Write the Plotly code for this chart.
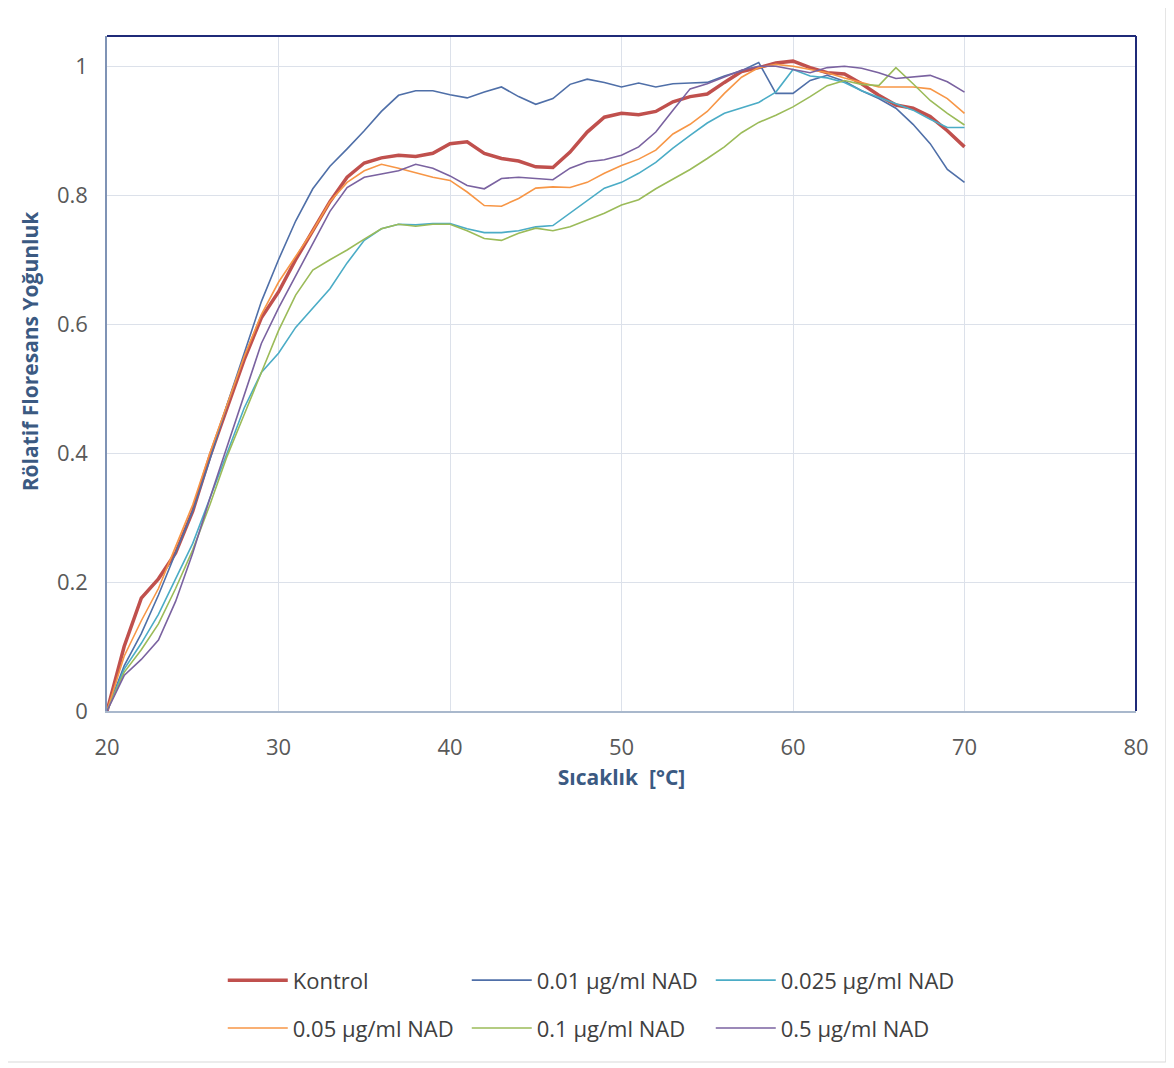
import plotly.graph_objects as go

temps = list(range(20, 71))

kontrol = [0, 0.10, 0.175, 0.205, 0.245, 0.31, 0.395, 0.47, 0.545, 0.61,
           0.65, 0.70, 0.745, 0.79, 0.828, 0.85, 0.858, 0.862, 0.86, 0.865,
           0.88, 0.883, 0.865, 0.857, 0.853, 0.844, 0.843, 0.867, 0.898, 0.921,
           0.927, 0.925, 0.93, 0.945, 0.953, 0.957, 0.975, 0.992, 0.998, 1.005,
           1.008, 0.998, 0.99, 0.988, 0.973, 0.955, 0.94, 0.935, 0.922, 0.90,
           0.875]
nad_001 = [0, 0.07, 0.12, 0.18, 0.245, 0.31, 0.39, 0.475, 0.555, 0.635,
           0.70, 0.76, 0.81, 0.845, 0.872, 0.90, 0.93, 0.955, 0.962, 0.962,
           0.956, 0.951, 0.96, 0.968, 0.953, 0.941, 0.95, 0.972, 0.98, 0.975,
           0.968, 0.974, 0.968, 0.973, 0.974, 0.975, 0.985, 0.993, 1.006, 0.958,
           0.958, 0.978, 0.986, 0.977, 0.962, 0.95, 0.935, 0.91, 0.88, 0.84,
           0.82]
nad_0025 = [0, 0.065, 0.105, 0.15, 0.205, 0.26, 0.33, 0.40, 0.47, 0.525,
            0.555, 0.595, 0.625, 0.655, 0.695, 0.73, 0.748, 0.755, 0.754, 0.756,
            0.756, 0.748, 0.742, 0.742, 0.745, 0.751, 0.753, 0.772, 0.792, 0.811,
            0.82, 0.834, 0.851, 0.873, 0.893, 0.912, 0.927, 0.935, 0.944, 0.96,
            0.995, 0.985, 0.982, 0.975, 0.962, 0.952, 0.942, 0.932, 0.918, 0.905,
            0.905]
nad_005 = [0, 0.085, 0.14, 0.19, 0.255, 0.32, 0.40, 0.475, 0.55, 0.615,
           0.665, 0.705, 0.745, 0.79, 0.82, 0.838, 0.848, 0.842, 0.835, 0.828,
           0.823, 0.805, 0.784, 0.783, 0.795, 0.811, 0.813, 0.812, 0.82, 0.834,
           0.846, 0.856, 0.87, 0.895, 0.91, 0.93, 0.958, 0.983, 0.998, 1.003,
           1.0, 0.995, 0.99, 0.982, 0.975, 0.968, 0.968, 0.968, 0.965, 0.95,
           0.927]
nad_01 = [0, 0.06, 0.095, 0.135, 0.19, 0.25, 0.32, 0.395, 0.46, 0.525,
          0.59, 0.645, 0.684, 0.70, 0.715, 0.732, 0.748, 0.755, 0.752, 0.755,
          0.755, 0.745, 0.733, 0.73, 0.741, 0.749, 0.745, 0.751, 0.761, 0.772,
          0.785, 0.793, 0.81, 0.825, 0.84, 0.857, 0.875, 0.897, 0.913, 0.924,
          0.937, 0.953, 0.97, 0.978, 0.972, 0.97, 0.998, 0.973, 0.947, 0.927,
          0.909]
nad_05 = [0, 0.055, 0.08, 0.11, 0.17, 0.245, 0.33, 0.41, 0.49, 0.57,
          0.625, 0.675, 0.725, 0.775, 0.812, 0.828, 0.833, 0.838, 0.848, 0.842,
          0.83, 0.815, 0.81, 0.826, 0.828, 0.826, 0.824, 0.842, 0.852, 0.855,
          0.862, 0.875, 0.898, 0.932, 0.965, 0.973, 0.983, 0.994, 1.0, 1.0,
          0.995, 0.99, 0.998, 1.0, 0.997, 0.99, 0.981, 0.983, 0.986, 0.976,
          0.96]

series_names = ["Kontrol", "0.01 µg/ml NAD", "0.025 µg/ml NAD",
                "0.05 µg/ml NAD", "0.1 µg/ml NAD", "0.5 µg/ml NAD"]
series_values = [kontrol, nad_001, nad_0025, nad_005, nad_01, nad_05]
series_colors = ["#C0504D", "#4F6FA8", "#4BACC6", "#F79646", "#9BBB59", "#7A62A0"]
series_widths = [3.5, 1.6, 1.6, 1.6, 1.6, 1.6]
series_legend = ["legend", "legend", "legend", "legend2", "legend2", "legend2"]

x_ticks = [20, 30, 40, 50, 60, 70, 80]
y_ticks = [0, 0.2, 0.4, 0.6, 0.8, 1.0]
y_tick_labels = ["0", "0.2", "0.4", "0.6", "0.8", "1"]

fig = go.Figure()
for name, vals, col, w, lg in zip(series_names, series_values, series_colors,
                                  series_widths, series_legend):
    fig.add_trace(go.Scatter(x=temps, y=vals, mode="lines", name=name,
                             line=dict(color=col, width=w), legend=lg))

tick_font = dict(family="Open Sans, Liberation Sans, sans-serif", size=22, color="#595959")
title_font = dict(family="Open Sans, Liberation Sans, sans-serif", size=21, color="#3B5A82")
legend_font = dict(family="Open Sans, Liberation Sans, sans-serif", size=22, color="#404040")

legend_common = dict(orientation="h", xanchor="left", yanchor="middle",
                     entrywidth=169, entrywidthmode="pixels", font=legend_font,
                     bgcolor="rgba(0,0,0,0)", itemwidth=60)

fig.update_layout(
    width=1166, height=1060,
    margin=dict(l=99, r=38, t=28, b=357),
    paper_bgcolor="white", plot_bgcolor="white",
    showlegend=True,
    xaxis=dict(range=[20, 80], tickvals=x_ticks, showgrid=True, gridcolor="#DCE1EA",
               gridwidth=1, zeroline=False, showline=True, linecolor="#A9B8CC",
               linewidth=1.5, ticks="", tickfont=tick_font, ticklabelstandoff=16,
               title=dict(text="<b>Sıcaklık  [°C]</b>", font=title_font, standoff=10)),
    yaxis=dict(range=[0, 1.047], tickvals=y_ticks, ticktext=y_tick_labels, showgrid=True,
               gridcolor="#DCE1EA", gridwidth=1, zeroline=False, showline=True,
               linecolor="#7F93B5", linewidth=1.5, ticks="", tickfont=tick_font,
               ticklabelstandoff=13),
    annotations=[
        dict(text="<b>Rölatif Floresans Yoğunluk</b>", font=title_font, textangle=-90,
             xref="paper", yref="paper", x=-0.0748, y=0.533, xanchor="center",
             yanchor="middle", showarrow=False),
    ],
    legend=dict(x=0.1125, y=-0.399, **legend_common),
    legend2=dict(x=0.1125, y=-0.470, **legend_common),
    shapes=[
        dict(type="line", xref="paper", yref="paper", x0=0, x1=1, y0=1, y1=1,
             line=dict(color="#1F2A78", width=2)),
        dict(type="line", xref="paper", yref="paper", x0=1, x1=1, y0=0, y1=1,
             line=dict(color="#1F2A78", width=2)),
        dict(type="rect", xref="paper", yref="paper", x0=-0.098, x1=1.029,
             y0=-0.52, y1=1.044, line=dict(color="#D9D9D9", width=1)),
    ],
)

fig.write_html("out.html")
